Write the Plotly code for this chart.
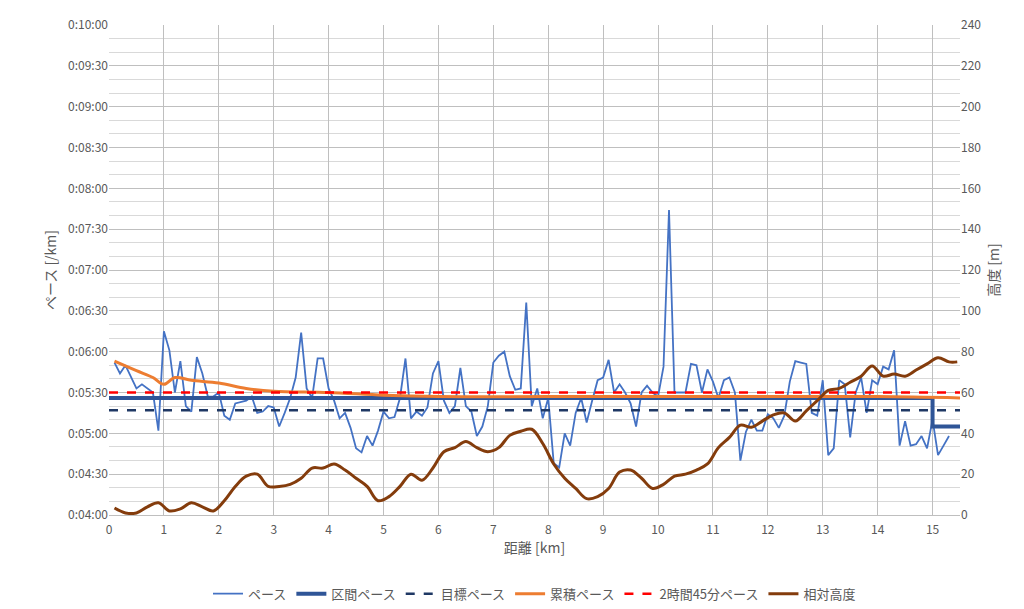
import plotly.graph_objects as go

# pace per 0.1 km split (seconds / km)
pace_sec = [352, 344, 350, 341, 333, 336, 333, 330, 302, 375,
            361, 330, 353, 320, 316, 356, 344, 327, 327, 330,
            313, 310, 322, 323, 324, 327, 315, 316, 320, 319,
            305, 315, 326, 341, 374, 333, 326, 355, 355, 333,
            324, 311, 315, 304, 289, 286, 298, 291, 302, 316,
            311, 312, 326, 355, 311, 316, 313, 319, 344, 353,
            324, 315, 320, 348, 320, 316, 298, 305, 320, 352,
            357, 360, 342, 332, 333, 396, 320, 333, 311, 326,
            278, 275, 300, 291, 315, 326, 308, 324, 339, 341,
            354, 330, 336, 330, 322, 305, 330, 335, 330,
            327, 349, 464, 330, 330, 330, 351, 350, 330, 347,
            338, 326, 339, 341, 330, 280, 301, 310, 302, 302,
            314, 311, 304, 313, 338, 353, 352, 351, 315, 313,
            339, 284, 289, 339, 336, 297, 330, 341, 315, 339,
            336, 349, 347, 361, 291, 309, 291, 292, 298, 289,
            310, 284, 291, 298]
pace_km = [round(0.1 * (i + 1), 1) for i in range(len(pace_sec))]

section_km = [0, 15, 15.5]
section_sec = [326, 305, 305]

target_sec = 317
goal_sec = 330

cum_km = [0.1, 0.5, 0.8, 1.0, 1.2, 1.5, 2.0, 2.5, 3.0, 4.0, 5.0, 6.0, 8.0, 10.0, 12.0, 14.0, 15.5]
cum_sec = [353, 346, 341, 336, 341, 339, 337, 333, 331, 330, 328, 327, 327, 327, 327, 327, 326]

alt_km = [0.1, 0.3, 0.5, 0.7, 0.9, 1.1, 1.3, 1.5, 1.7, 1.9, 2.1, 2.3, 2.5, 2.7, 2.9,
          3.1, 3.3, 3.5, 3.7, 3.9, 4.1, 4.3, 4.5, 4.7, 4.9, 5.1, 5.3, 5.5, 5.7, 5.9,
          6.1, 6.3, 6.5, 6.7, 6.9, 7.1, 7.3, 7.5, 7.7, 7.9, 8.1, 8.3, 8.5, 8.7, 8.9,
          9.1, 9.3, 9.5, 9.7, 9.9, 10.1, 10.3, 10.5, 10.7, 10.9, 11.1, 11.3, 11.5, 11.7, 11.9,
          12.1, 12.3, 12.5, 12.7, 12.9, 13.1, 13.3, 13.5, 13.7, 13.9, 14.1, 14.3, 14.5, 14.7, 14.9,
          15.1, 15.3, 15.45]
alt_m = [3.4, 1, 1, 4, 6, 2, 3, 6, 4, 2, 7, 14, 19, 20, 14,
         14, 15, 18, 23, 23, 25, 22, 18, 14, 7, 9, 14, 20, 17, 23,
         31, 33, 36, 33, 31, 33, 39, 41, 42, 35, 25, 18, 13, 8, 9,
         13, 21, 22, 18, 13, 15, 19, 20, 22, 25, 33, 38, 44, 43, 46,
         49, 50, 46, 51, 56, 61, 62, 65, 68, 73, 68, 69, 68, 71, 74,
         77, 75, 75]

y_ticks = list(range(240, 601, 30))
y_labels = ["0:%02d:%02d" % (s // 60, s % 60) for s in y_ticks]

font = "Noto Sans CJK JP, sans-serif"
grey = "#595959"

fig = go.Figure()
fig.add_trace(go.Scatter(x=pace_km, y=pace_sec, name="ペース", mode="lines",
                         line=dict(color="#4472C4", width=1.8)))
fig.add_trace(go.Scatter(x=section_km, y=section_sec, name="区間ペース", mode="lines",
                         line=dict(color="#2F5597", width=4, shape="hv")))
fig.add_trace(go.Scatter(x=[0, 15.5], y=[target_sec, target_sec], name="目標ペース", mode="lines",
                         line=dict(color="#1F3864", width=2.5, dash="dash")))
fig.add_trace(go.Scatter(x=cum_km, y=cum_sec, name="累積ペース", mode="lines",
                         line=dict(color="#ED7D31", width=3, shape="spline")))
fig.add_trace(go.Scatter(x=[0, 15.5], y=[goal_sec, goal_sec], name="2時間45分ペース", mode="lines",
                         line=dict(color="#FF0000", width=2.5, dash="dash")))
fig.add_trace(go.Scatter(x=alt_km, y=alt_m, name="相対高度", mode="lines", yaxis="y2",
                         line=dict(color="#843C0C", width=3, shape="spline")))

fig.update_layout(
    width=1024, height=609,
    margin=dict(l=101, r=72, t=17, b=102, autoexpand=False),
    paper_bgcolor="white", plot_bgcolor="white",
    font=dict(family=font, size=12, color=grey),
    xaxis=dict(range=[0, 15.5], dtick=1, showgrid=True, gridcolor="#BFBFBF",
               showline=True, linecolor="#BFBFBF", ticks="outside", ticklen=4,
               tickcolor="rgba(0,0,0,0)", zeroline=False, automargin=False,
               title=dict(text="距離 [km]", standoff=6)),
    yaxis=dict(range=[240, 600], tickvals=y_ticks, ticktext=y_labels,
               showgrid=True, gridcolor="#BFBFBF", zeroline=False, automargin=False,
               minor=dict(dtick=10, showgrid=True, gridcolor="#D9D9D9"),
               title=dict(text="ペース [/km]", standoff=8)),
    yaxis2=dict(range=[0, 240], dtick=20, overlaying="y", side="right",
                showgrid=False, zeroline=False, automargin=False,
                title=dict(text="高度 [m]", standoff=8)),
    legend=dict(orientation="h", x=0.5, xanchor="center", y=-0.13, yanchor="top",
                font=dict(size=13, color=grey)),
    showlegend=True,
)

fig.write_html("out.html")
